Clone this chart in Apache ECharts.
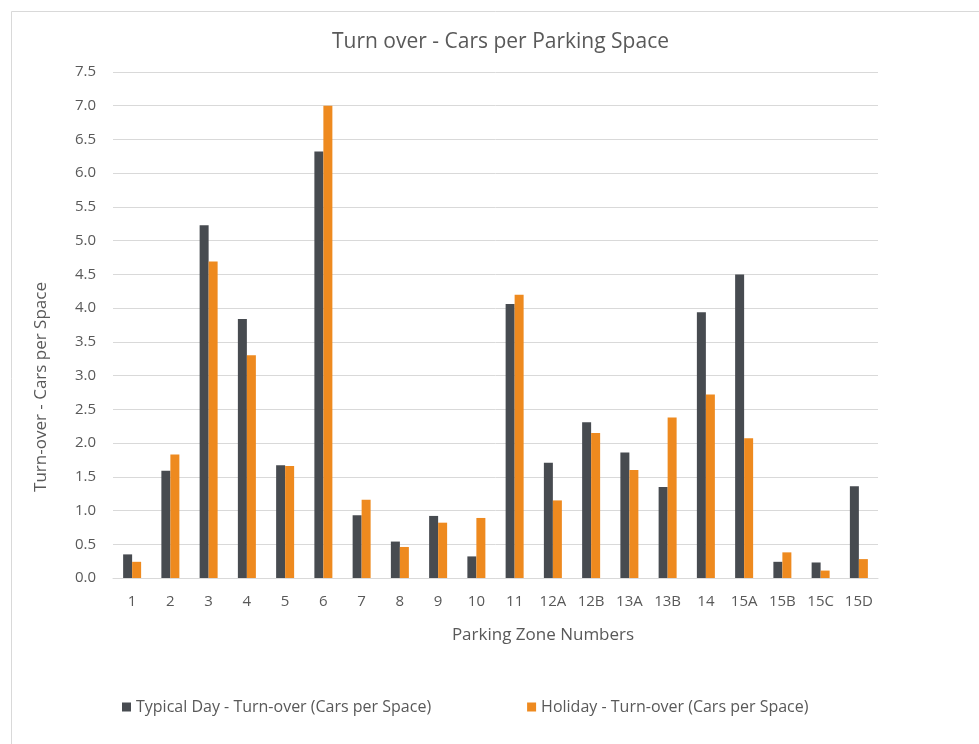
<!DOCTYPE html>
<html>
<head>
<meta charset="utf-8">
<script src="https://cdn.jsdelivr.net/npm/echarts@6/dist/echarts.min.js"></script>
<style>
html,body{margin:0;padding:0;background:#fff;}
#chart{width:979px;height:744px;}
</style>
</head>
<body>
<div id="chart"></div>
<script>
const categories = ['1','2','3','4','5','6','7','8','9','10','11','12A','12B','13A','13B','14','15A','15B','15C','15D'];
const typicalDay = [0.35,1.59,5.23,3.84,1.67,6.32,0.93,0.54,0.92,0.32,4.06,1.71,2.31,1.86,1.35,3.94,4.50,0.24,0.23,1.36];
const holiday = [0.24,1.83,4.69,3.30,1.66,7.00,1.16,0.46,0.82,0.89,4.20,1.15,2.15,1.60,2.38,2.72,2.07,0.38,0.11,0.28];
const seriesNames = ['Typical Day - Turn-over (Cars per Space)','Holiday - Turn-over (Cars per Space)'];

const font = '"Open Sans", sans-serif';
const chart = echarts.init(document.getElementById('chart'));
chart.setOption({
  backgroundColor: '#fff',
  animation: false,
  graphic: [{
    type: 'rect', left: 9, top: 9,
    shape: {width: 975, height: 740},
    style: {fill: 'none', stroke: '#d9d9d9', lineWidth: 1}
  }],
  title: {
    text: 'Turn over - Cars per Parking Space',
    left: 327, top: 27,
    textStyle: {fontFamily: font, fontSize: 21, fontWeight: 'normal', color: '#595959'}
  },
  legend: {
    left: 117, top: 694, itemWidth: 9, itemHeight: 9, itemGap: 96,
    icon: 'rect',
    textStyle: {fontFamily: font, fontSize: 16, color: '#595959'},
    data: seriesNames
  },
  grid: {left: 113, right: 101, top: 72, bottom: 166},
  xAxis: {
    type: 'category', data: categories,
    name: 'Parking Zone Numbers', nameLocation: 'middle', nameGap: 49,
    nameTextStyle: {fontFamily: font, fontSize: 17, color: '#595959', padding: [0, 0, 0, 95]},
    axisLine: {lineStyle: {color: '#d9d9d9'}},
    axisTick: {show: false},
    axisLabel: {fontFamily: font, fontSize: 15, color: '#595959', margin: 16, interval: 0}
  },
  yAxis: {
    type: 'value', min: 0, max: 7.5, interval: 0.5,
    name: 'Turn-over - Cars per Space', nameLocation: 'middle', nameGap: 63, nameRotate: 90,
    nameTextStyle: {fontFamily: font, fontSize: 17, color: '#595959', padding: [0, 124, 0, 0]},
    axisLine: {show: false}, axisTick: {show: false},
    axisLabel: {fontFamily: font, fontSize: 15, color: '#595959', margin: 17, formatter: v => v.toFixed(1)},
    splitLine: {lineStyle: {color: '#d9d9d9'}}
  },
  series: [
    {name: seriesNames[0], type: 'bar', data: typicalDay, barWidth: 9, barGap: '0%', itemStyle: {color: '#474b50'}},
    {name: seriesNames[1], type: 'bar', data: holiday, barWidth: 9, barGap: '0%', itemStyle: {color: '#ee8a1f'}}
  ]
});
</script>
</body>
</html>
